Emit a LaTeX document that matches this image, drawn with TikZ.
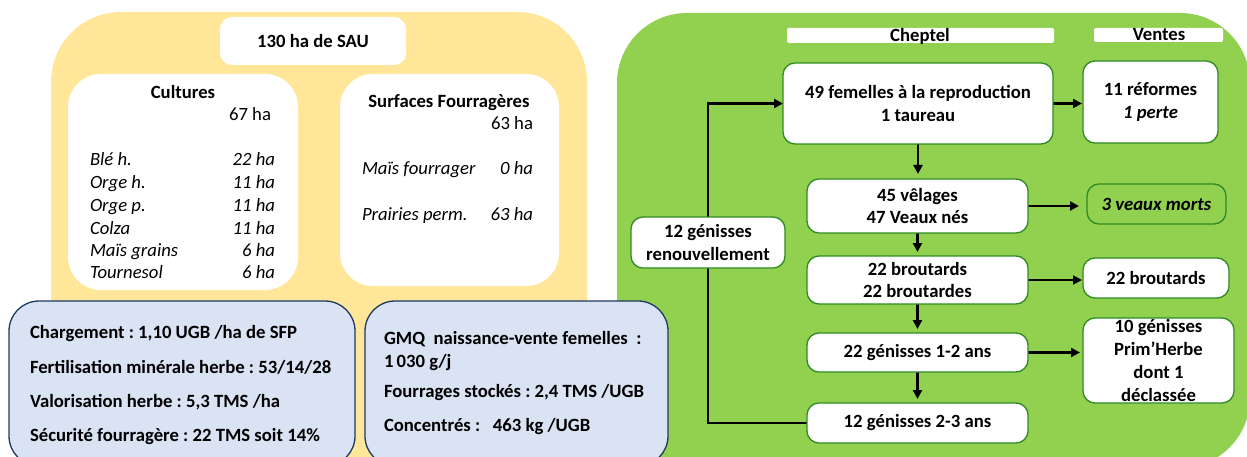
\documentclass[tikz,border=0pt]{standalone}
\usepackage{fontspec}
\setmainfont{Carlito}
\usetikzlibrary{arrows.meta}
\pgfdeclarelayer{back}
\pgfdeclarelayer{mid}
\pgfsetlayers{back,mid,main}
\frenchspacing
\newcommand\fsz{\fontsize{18.7}{22.8}\selectfont}
\definecolor{yel}{HTML}{FFE699}
\definecolor{grn}{HTML}{92D050}
\definecolor{dgrn}{HTML}{2E8B22}
\definecolor{lblue}{HTML}{DAE3F3}
\definecolor{dblue}{HTML}{1F3864}
\begin{document}
\begin{tikzpicture}[x=1pt,y=-1pt,
  area/.style={anchor=north west, inner sep=0pt, outer sep=0pt, rounded corners=70pt},
  wpanel/.style={anchor=north west, inner sep=0pt, outer sep=0pt, fill=white, rounded corners=#1},
  bpanel/.style={anchor=north west, inner sep=0pt, outer sep=0pt, draw=dblue, line width=1.3pt, fill=lblue, rounded corners=30pt},
  gbox/.style={anchor=north west, inner sep=0pt, outer sep=0pt, draw=dgrn, line width=1.3pt, fill=white, rounded corners=12pt, align=center, font=\fsz\bfseries},
  lbl/.style={inner sep=0pt, outer sep=0pt, font=\fsz, text height=14pt, text depth=3pt},
  lblb/.style={lbl, font=\fsz\bfseries},
  lbli/.style={lbl, font=\fsz\itshape},
  arr/.style={line width=2.2pt, -{Triangle[length=9pt,width=9pt]}}
]
\useasboundingbox (0,0) rectangle (1247,457);
\clip (0,0) rectangle (1247,457);

\begin{pgfonlayer}{back}
\node[area, fill=yel, minimum width=536pt, minimum height=490pt] (yarea) at (51,12) {};
\node[area, fill=grn, minimum width=633pt, minimum height=455pt] (garea) at (617,13) {};
\end{pgfonlayer}

% left: surfaces
\node[wpanel=12pt, minimum width=186pt, minimum height=48pt, font=\fsz\bfseries] (sau) at (220,17) {130 ha de SAU};
\node[wpanel=33pt, minimum width=230pt, minimum height=216pt] (cult) at (68,74) {};
\node[wpanel=33pt, minimum width=219pt, minimum height=212pt] (sfp) at (340,74) {};

\node[lblb] (cultt) at (183,93) {Cultures};
\node[lbl, anchor=east] (cultha) at (271,115) {67 ha};
\node[lbli, anchor=west] (c1) at (90,160) {Blé h.};
\node[lbli, anchor=east] (v1) at (275,160) {22 ha};
\node[lbli, anchor=west] (c2) at (90,183) {Orge h.};
\node[lbli, anchor=east] (v2) at (275,183) {11 ha};
\node[lbli, anchor=west] (c3) at (90,206) {Orge p.};
\node[lbli, anchor=east] (v3) at (275,206) {11 ha};
\node[lbli, anchor=west] (c4) at (90,229) {Colza};
\node[lbli, anchor=east] (v4) at (275,229) {11 ha};
\node[lbli, anchor=west] (c5) at (90,251) {Maïs grains};
\node[lbli, anchor=east] (v5) at (275,251) {6 ha};
\node[lbli, anchor=west] (c6) at (90,273) {Tournesol};
\node[lbli, anchor=east] (v6) at (275,273) {6 ha};

\node[lblb] (sfpt) at (449,102) {Surfaces Fourragères};
\node[lbl, anchor=east] (sfpha) at (533,124) {63 ha};
\node[lbli, anchor=west] (s1) at (362,169) {Maïs fourrager};
\node[lbli, anchor=east] (w1) at (533,169) {0 ha};
\node[lbli, anchor=west] (s2) at (362,215) {Prairies perm.};
\node[lbli, anchor=east] (w2) at (533,215) {63 ha};

% right: cheptel
\node[wpanel=2pt, minimum width=267pt, minimum height=15pt] (chb) at (787,28) {};
\node[lblb] (cht) at (920,36) {Cheptel};
\node[wpanel=2pt, minimum width=129pt, minimum height=14pt] (veb) at (1094,28) {};
\node[lblb] (vet) at (1159,35) {Ventes};

\node[gbox, minimum width=270pt, minimum height=81pt] (fem) at (783,63) {49 femelles à la reproduction\\1 taureau};
\node[gbox, minimum width=135pt, minimum height=82pt] (ref) at (1083,61) {11 réformes\\\textit{1 perte}};
\node[gbox, minimum width=221pt, minimum height=54pt] (vel) at (807,179) {45 vêlages\\47 Veaux nés};
\node[gbox, fill=grn, minimum width=139pt, minimum height=40pt] (morts) at (1087,184) {\textit{3 veaux morts}};
\node[gbox, minimum width=221pt, minimum height=48pt] (brt) at (807,256) {22 broutards\\22 broutardes};
\node[gbox, minimum width=146pt, minimum height=40pt] (brt2) at (1083,258) {22 broutards};
\node[gbox, minimum width=221pt, minimum height=39pt] (g12) at (807,333) {22 génisses 1-2 ans};
\node[gbox, minimum width=151pt, minimum height=85pt] (g10) at (1083,318) {10 génisses\\Prim’Herbe\\dont 1\\déclassée};
\node[gbox, minimum width=221pt, minimum height=40pt] (g23) at (807,403) {12 génisses 2-3 ans};
\node[gbox, minimum width=154pt, minimum height=51pt] (ren) at (631,217) {12 génisses\\renouvellement};

\begin{pgfonlayer}{mid}
\draw[arr, shorten >=1pt] (fem.east) -- (fem.east -| ref.west);
\draw[arr, shorten >=5pt] (fem.south) -- (fem.south |- vel.north);
\draw[arr, shorten >=8pt] (vel.east) -- (vel.east -| morts.west);
\draw[arr, shorten >=4pt] (vel.south) -- (vel.south |- brt.north);
\draw[arr, shorten >=1pt] (brt.east) -- (brt.east -| brt2.west);
\draw[arr, shorten >=4pt] (brt.south) -- (brt.south |- g12.north);
\draw[arr, shorten >=3pt] (g12.east) -- (g12.east -| g10.west);
\draw[arr, shorten >=4pt] (g12.south) -- (g12.south |- g23.north);
\draw[arr] (g23.west) -| (ren.center) |- (fem.west);
\end{pgfonlayer}

% bottom indicator boxes
\node[bpanel, minimum width=346pt, minimum height=165pt] (b1) at (9,301) {};
\node[bpanel, minimum width=303pt, minimum height=165pt] (b2) at (365,301) {};
\node[lblb, anchor=west] (i1) at (30,333) {Chargement : 1,10 UGB /ha de SFP};
\node[lblb, anchor=west] (i2) at (30,368) {Fertilisation minérale herbe : 53/14/28};
\node[lblb, anchor=west] (i3) at (30,402) {Valorisation herbe : 5,3 TMS /ha};
\node[lblb, anchor=west] (i4) at (30,436) {Sécurité fourragère : 22 TMS soit 14\%};
\node[lblb, anchor=west] (j1) at (384,339) {GMQ\ \ naissance-vente femelles\ \ :};
\node[lblb, anchor=west] (j2) at (384,362) {1\,030 g/j};
\node[lblb, anchor=west] (j3) at (384,392) {Fourrages stockés : 2,4 TMS /UGB};
\node[lblb, anchor=west] (j4) at (384,426) {Concentrés :\ \ \ 463 kg /UGB};
\end{tikzpicture}
\end{document}
